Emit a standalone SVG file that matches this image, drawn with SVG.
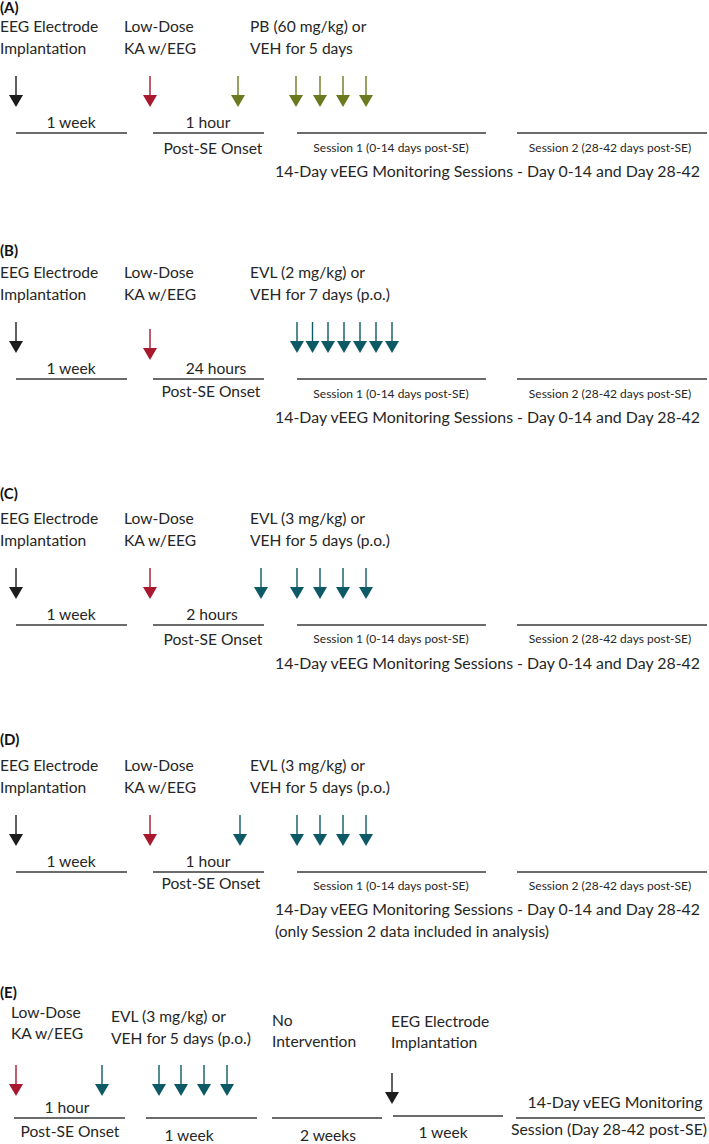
<svg xmlns="http://www.w3.org/2000/svg" width="709" height="1144" viewBox="0 0 709 1144">
<style>
text{font-family:Lato,"Liberation Sans",sans-serif;fill:#262626;}
.t{font-size:15.6px;}
.s{font-size:12px;}
.h{font-size:15px;font-weight:bold;fill:#111;}
.m{text-anchor:middle;}
.bar{stroke:#3a3a3a;stroke-width:1.6;fill:none;}
.blk{color:#1c1c1c;}
.red{color:#a8182f;}
.grn{color:#6b7a1f;}
.teal{color:#0d5a66;}
</style>
<defs>
<g id="arr"><line x1="0" y1="0" x2="0" y2="20" stroke="currentColor" stroke-width="1.4"/><polygon points="-7,19 7,19 0,31" fill="currentColor"/></g>
</defs>
<rect width="709" height="1144" fill="#fff"/>

<!-- Panel A -->
<g id="panelA">
<text class="h" x="0" y="13">(A)</text>
<g id="A-implant"><text class="t" x="0" y="32">EEG Electrode</text><text class="t" x="0" y="54">Implantation</text></g>
<g id="A-ka"><text class="t" x="124" y="32">Low-Dose</text><text class="t" x="124" y="54">KA w/EEG</text></g>
<g id="A-drug"><text class="t" x="250" y="32">PB (60 mg/kg) or</text><text class="t" x="250" y="54">VEH for 5 days</text></g>
<g id="A-labels">
<text class="t m" x="71" y="128">1 week</text>
<text class="t m" x="208" y="128">1 hour</text>
<text class="t m" x="213" y="154">Post-SE Onset</text>
<text class="s m" x="391" y="152">Session 1 (0-14 days post-SE)</text>
<text class="s m" x="610" y="152">Session 2 (28-42 days post-SE)</text>
<text class="t" x="275" y="177" textLength="425" lengthAdjust="spacingAndGlyphs">14-Day vEEG Monitoring Sessions - Day 0-14 and Day 28-42</text>
</g>
<g id="A-connectors">
<use href="#arr" x="16" y="76" class="blk"/>
<use href="#arr" x="150" y="76" class="red"/>
<use href="#arr" x="238" y="76" class="grn"/>
<use href="#arr" x="296" y="76" class="grn"/>
<use href="#arr" x="320" y="76" class="grn"/>
<use href="#arr" x="343" y="76" class="grn"/>
<use href="#arr" x="366" y="76" class="grn"/>
<line class="bar" x1="16" y1="133" x2="127" y2="133"/>
<line class="bar" x1="153" y1="133" x2="264" y2="133"/>
<line class="bar" x1="297" y1="133" x2="486" y2="133"/>
<line class="bar" x1="517" y1="133" x2="707" y2="133"/>
</g>
</g>

<!-- Panel B -->
<g id="panelB">
<text class="h" x="0" y="256">(B)</text>
<g id="B-implant"><text class="t" x="0" y="278">EEG Electrode</text><text class="t" x="0" y="300">Implantation</text></g>
<g id="B-ka"><text class="t" x="124" y="278">Low-Dose</text><text class="t" x="124" y="300">KA w/EEG</text></g>
<g id="B-drug"><text class="t" x="250" y="278">EVL (2 mg/kg) or</text><text class="t" x="250" y="300">VEH for 7 days (p.o.)</text></g>
<g id="B-labels">
<text class="t m" x="71" y="374">1 week</text>
<text class="t m" x="216" y="374">24 hours</text>
<text class="t m" x="211" y="397">Post-SE Onset</text>
<text class="s m" x="391" y="398">Session 1 (0-14 days post-SE)</text>
<text class="s m" x="610" y="398">Session 2 (28-42 days post-SE)</text>
<text class="t" x="275" y="423" textLength="425" lengthAdjust="spacingAndGlyphs">14-Day vEEG Monitoring Sessions - Day 0-14 and Day 28-42</text>
</g>
<g id="B-connectors">
<use href="#arr" x="16" y="322" class="blk"/>
<use href="#arr" x="150" y="329" class="red"/>
<use href="#arr" x="297" y="322" class="teal"/>
<use href="#arr" x="312.5" y="322" class="teal"/>
<use href="#arr" x="328" y="322" class="teal"/>
<use href="#arr" x="344" y="322" class="teal"/>
<use href="#arr" x="360" y="322" class="teal"/>
<use href="#arr" x="376" y="322" class="teal"/>
<use href="#arr" x="392" y="322" class="teal"/>
<line class="bar" x1="16" y1="379" x2="127" y2="379"/>
<line class="bar" x1="153" y1="379" x2="264" y2="379"/>
<line class="bar" x1="297" y1="379" x2="486" y2="379"/>
<line class="bar" x1="517" y1="379" x2="707" y2="379"/>
</g>
</g>

<!-- Panel C -->
<g id="panelC">
<text class="h" x="0" y="499">(C)</text>
<g id="C-implant"><text class="t" x="0" y="524">EEG Electrode</text><text class="t" x="0" y="546">Implantation</text></g>
<g id="C-ka"><text class="t" x="124" y="524">Low-Dose</text><text class="t" x="124" y="546">KA w/EEG</text></g>
<g id="C-drug"><text class="t" x="250" y="524">EVL (3 mg/kg) or</text><text class="t" x="250" y="546">VEH for 5 days (p.o.)</text></g>
<g id="C-labels">
<text class="t m" x="71" y="620">1 week</text>
<text class="t m" x="212" y="620">2 hours</text>
<text class="t m" x="213" y="645">Post-SE Onset</text>
<text class="s m" x="391" y="643">Session 1 (0-14 days post-SE)</text>
<text class="s m" x="610" y="643">Session 2 (28-42 days post-SE)</text>
<text class="t" x="275" y="669" textLength="425" lengthAdjust="spacingAndGlyphs">14-Day vEEG Monitoring Sessions - Day 0-14 and Day 28-42</text>
</g>
<g id="C-connectors">
<use href="#arr" x="16" y="568" class="blk"/>
<use href="#arr" x="150" y="568" class="red"/>
<use href="#arr" x="261" y="568" class="teal"/>
<use href="#arr" x="297" y="568" class="teal"/>
<use href="#arr" x="320" y="568" class="teal"/>
<use href="#arr" x="343" y="568" class="teal"/>
<use href="#arr" x="366" y="568" class="teal"/>
<line class="bar" x1="16" y1="625" x2="127" y2="625"/>
<line class="bar" x1="153" y1="625" x2="264" y2="625"/>
<line class="bar" x1="297" y1="625" x2="486" y2="625"/>
<line class="bar" x1="517" y1="625" x2="707" y2="625"/>
</g>
</g>

<!-- Panel D -->
<g id="panelD">
<text class="h" x="0" y="745">(D)</text>
<g id="D-implant"><text class="t" x="0" y="771">EEG Electrode</text><text class="t" x="0" y="793">Implantation</text></g>
<g id="D-ka"><text class="t" x="124" y="771">Low-Dose</text><text class="t" x="124" y="793">KA w/EEG</text></g>
<g id="D-drug"><text class="t" x="250" y="771">EVL (3 mg/kg) or</text><text class="t" x="250" y="793">VEH for 5 days (p.o.)</text></g>
<g id="D-labels">
<text class="t m" x="71" y="867">1 week</text>
<text class="t m" x="208" y="867">1 hour</text>
<text class="t m" x="211" y="889">Post-SE Onset</text>
<text class="s m" x="391" y="890">Session 1 (0-14 days post-SE)</text>
<text class="s m" x="610" y="890">Session 2 (28-42 days post-SE)</text>
<text class="t" x="275" y="915" textLength="425" lengthAdjust="spacingAndGlyphs">14-Day vEEG Monitoring Sessions - Day 0-14 and Day 28-42</text>
<text class="t" x="275" y="937">(only Session 2 data included in analysis)</text>
</g>
<g id="D-connectors">
<use href="#arr" x="16" y="815" class="blk"/>
<use href="#arr" x="150" y="815" class="red"/>
<use href="#arr" x="240" y="815" class="teal"/>
<use href="#arr" x="297" y="815" class="teal"/>
<use href="#arr" x="320" y="815" class="teal"/>
<use href="#arr" x="343" y="815" class="teal"/>
<use href="#arr" x="366" y="815" class="teal"/>
<line class="bar" x1="16" y1="872" x2="127" y2="872"/>
<line class="bar" x1="153" y1="872" x2="264" y2="872"/>
<line class="bar" x1="297" y1="872" x2="486" y2="872"/>
<line class="bar" x1="517" y1="872" x2="707" y2="872"/>
</g>
</g>

<!-- Panel E -->
<g id="panelE">
<text class="h" x="0" y="998">(E)</text>
<g id="E-ka"><text class="t" x="11" y="1018">Low-Dose</text><text class="t" x="11" y="1039">KA w/EEG</text></g>
<g id="E-drug"><text class="t" x="111" y="1022">EVL (3 mg/kg) or</text><text class="t" x="111" y="1044">VEH for 5 days (p.o.)</text></g>
<g id="E-none"><text class="t" x="272" y="1026">No</text><text class="t" x="272" y="1047">Intervention</text></g>
<g id="E-implant"><text class="t" x="391" y="1027">EEG Electrode</text><text class="t" x="391" y="1048">Implantation</text></g>
<g id="E-labels">
<text class="t m" x="67" y="1113">1 hour</text>
<text class="t m" x="70" y="1137">Post-SE Onset</text>
<text class="t m" x="189" y="1141">1 week</text>
<text class="t m" x="328" y="1141">2 weeks</text>
<text class="t m" x="443" y="1138">1 week</text>
<text class="t m" x="615" y="1108" textLength="175" lengthAdjust="spacingAndGlyphs">14-Day vEEG Monitoring</text>
<text class="t m" x="609" y="1135" textLength="196" lengthAdjust="spacingAndGlyphs">Session (Day 28-42 post-SE)</text>
</g>
<g id="E-connectors">
<use href="#arr" x="16" y="1065" class="red"/>
<use href="#arr" x="102" y="1065" class="teal"/>
<use href="#arr" x="159" y="1065" class="teal"/>
<use href="#arr" x="181" y="1065" class="teal"/>
<use href="#arr" x="204" y="1065" class="teal"/>
<use href="#arr" x="227" y="1065" class="teal"/>
<use href="#arr" x="392" y="1073" class="blk"/>
<line class="bar" x1="14" y1="1118" x2="125" y2="1118"/>
<line class="bar" x1="146" y1="1118" x2="257" y2="1118"/>
<line class="bar" x1="272" y1="1118" x2="382" y2="1118"/>
<line class="bar" x1="393" y1="1116" x2="503" y2="1116"/>
<line class="bar" x1="516" y1="1118" x2="705" y2="1118"/>
</g>
</g>
</svg>
